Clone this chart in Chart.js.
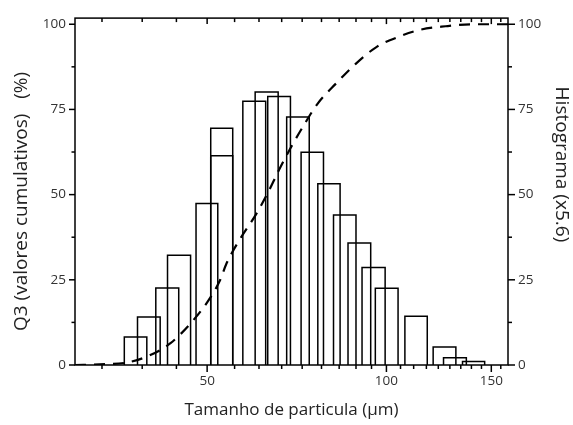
<!DOCTYPE html>
<html>
<head>
<meta charset="utf-8">
<script src="https://cdn.jsdelivr.net/npm/chart.js@4"></script>
<style>
  html, body { margin: 0; padding: 0; background: #fff; }
  #wrap { width: 573px; height: 425px; }
</style>
</head>
<body>
<div id="wrap"><canvas id="psd"></canvas></div>
<script>
// histogram bins (edges in µm, heights in % x5.6)
const binLeft   = [36.3, 38.2, 41.0, 42.9, 47.9, 50.7, 50.7, 57.4, 60.2, 63.2, 68.0, 71.9, 76.7, 81.5, 86.2, 91.0, 95.8, 107.4, 119.8, 124.7, 134.2];
const binRight  = [39.6, 41.7, 44.8, 46.9, 52.1, 55.2, 55.2, 62.7, 65.8, 69.0, 74.2, 78.4, 83.6, 88.9, 94.1, 99.5, 104.6, 117.1, 130.8, 136.2, 146.2];
const binHeight = [8.2, 14.1, 22.6, 32.2, 47.4, 69.5, 61.4, 77.4, 80.1, 78.8, 72.8, 62.4, 53.2, 44.0, 35.8, 28.6, 22.5, 14.3, 5.3, 2.1, 1.0];

// cumulative Q3 curve
const cumX = [30, 33, 36.6, 39.9, 43.4, 47.1, 50.1, 52.6, 53.8, 56.7, 60.4, 63.3, 66.0, 69.0, 72.4, 76.5, 82.4, 88.7, 96.2, 104.8, 114.1, 125.7, 140.1, 153, 160];
const cumY = [0, 0.2, 0.7, 2.7, 6.4, 12.6, 18.6, 25.0, 29.5, 36.8, 44.2, 50.7, 57.2, 63.6, 69.9, 76.5, 82.7, 88.3, 93.3, 96.3, 98.4, 99.4, 100, 100, 100];

const xMajorTicks = [50, 100, 150];
const xMinorTicks = [33.3, 38.9, 44.4, 55.6, 61.1, 66.7, 72.2, 77.8, 83.3, 88.9, 94.4, 105.6, 111.1, 116.7, 122.2, 127.8, 133.3, 138.9, 144.4, 155.6];
const yMajorTicks = [0, 25, 50, 75, 100];
const yMinorTicks = [12.5, 37.5, 62.5, 87.5];

const FONT = "'Open Sans', sans-serif";

// frame + tick marks (major / minor lengths differ, so drawn by hand off the scales)
const frameTicks = {
    id: 'frameTicks',
    afterDraw(chart) {
        const { ctx, chartArea: a } = chart;
        const x = chart.scales.x, y = chart.scales.y;
        ctx.save();
        ctx.strokeStyle = '#000';
        ctx.lineWidth = 1.5;
        ctx.strokeRect(a.left, a.top, a.right - a.left, a.bottom - a.top);
        const seg = (x1, y1, x2, y2) => { ctx.beginPath(); ctx.moveTo(x1, y1); ctx.lineTo(x2, y2); ctx.stroke(); };
        xMajorTicks.forEach(v => {
            const px = x.getPixelForValue(v);
            seg(px, a.bottom, px, a.bottom + 7);
            seg(px, a.top, px, a.top + 6);
        });
        xMinorTicks.forEach(v => {
            const px = x.getPixelForValue(v);
            seg(px, a.bottom, px, a.bottom + 4);
            seg(px, a.top, px, a.top + 4);
        });
        yMajorTicks.forEach(v => {
            const py = y.getPixelForValue(v);
            seg(a.left - 6, py, a.left, py);
            seg(a.right, py, a.right + 7, py);
        });
        yMinorTicks.forEach(v => {
            const py = y.getPixelForValue(v);
            seg(a.left - 3.5, py, a.left, py);
            seg(a.right, py, a.right + 4, py);
        });
        ctx.restore();
    }
};

const barSets = binHeight.map((h, i) => ({
    data: [
        { x: binLeft[i], y: 0 },
        { x: binLeft[i], y: h },
        { x: binRight[i], y: h },
        { x: binRight[i], y: 0 }
    ],
    showLine: true,
    borderColor: '#000',
    borderWidth: 1.5,
    pointRadius: 0,
    tension: 0,
    fill: false
}));

const cumSet = {
    data: cumX.map((v, i) => ({ x: v, y: cumY[i] })),
    showLine: true,
    borderColor: '#000',
    borderWidth: 2.2,
    borderDash: [11, 8],
    pointRadius: 0,
    cubicInterpolationMode: 'monotone',
    fill: false
};

const yTicksFrom = s => { s.ticks = yMajorTicks.map(v => ({ value: v })); };

new Chart(document.getElementById('psd'), {
    type: 'scatter',
    data: { datasets: [...barSets, cumSet] },
    options: {
        responsive: true,
        maintainAspectRatio: false,
        animation: false,
        layout: { padding: { top: 16, left: 0, right: 0, bottom: 0 } },
        plugins: { legend: { display: false }, tooltip: { enabled: false } },
        scales: {
            x: {
                type: 'logarithmic',
                position: 'bottom',
                min: 30,
                max: 160,
                afterBuildTicks: s => { s.ticks = xMajorTicks.map(v => ({ value: v })); },
                afterFit: s => { s.height = 60; },
                grid: { display: false, drawTicks: false },
                border: { display: false },
                ticks: { callback: v => String(v), padding: 8, maxRotation: 0, color: '#333', font: { family: FONT, size: 13.5 } },
                title: { display: true, text: 'Tamanho de particula (µm)', color: '#222', padding: { top: 0, bottom: 5 }, font: { family: FONT, size: 17 } }
            },
            y: {
                position: 'left',
                min: 0,
                max: 101.8,
                afterBuildTicks: yTicksFrom,
                afterFit: s => { s.width = 75; },
                grid: { display: false, drawTicks: false },
                border: { display: false },
                ticks: { padding: 9, color: '#333', font: { family: FONT, size: 13.5 } },
                // trailing spaces nudge the centred title a little down, as in the original
                title: { display: true, text: 'Q3 (valores cumulativos)   (%)    ', color: '#222', padding: { top: 10, bottom: 0 }, font: { family: FONT, size: 19 } }
            },
            y2: {
                position: 'right',
                min: 0,
                max: 101.8,
                afterBuildTicks: yTicksFrom,
                afterFit: s => { s.width = 65; },
                grid: { display: false, drawTicks: false },
                border: { display: false },
                ticks: { padding: 10, color: '#333', font: { family: FONT, size: 13.5 } },
                // trailing spaces lift the title toward the top, as in the original
                title: { display: true, text: 'Histograma (x5.6)           ', color: '#222', padding: { top: 0, bottom: 0 }, font: { family: FONT, size: 19 } }
            }
        }
    },
    plugins: [frameTicks]
});
</script>
</body>
</html>
